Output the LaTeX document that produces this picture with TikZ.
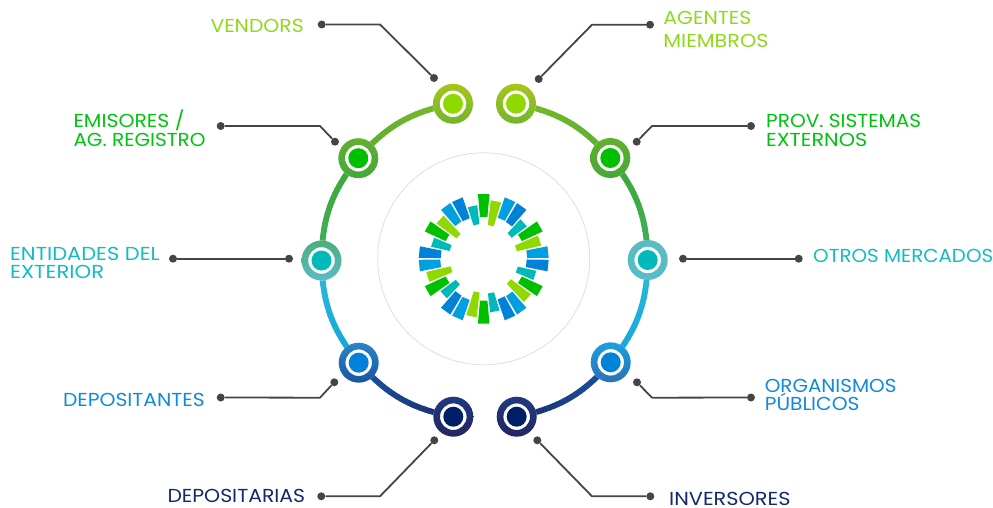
\documentclass[tikz,border=0pt]{standalone}
\usepackage{fontspec}
\usepackage{graphicx}
\setmainfont{Poppins}
\definecolor{lime}{HTML}{8FD91A}
\definecolor{grn}{HTML}{00C30E}
\definecolor{teal2}{HTML}{12BCC0}
\definecolor{blu}{HTML}{1289DE}
\definecolor{navy}{HTML}{12296B}
\definecolor{wg}{HTML}{00C000}
\definecolor{wl}{HTML}{8FD900}
\definecolor{wb}{HTML}{00A0E0}
\definecolor{wd}{HTML}{0082D8}
\definecolor{wt}{HTML}{00BABA}
\definecolor{cnavy}{HTML}{001F66}
\definecolor{la1}{HTML}{7DBA28}
\definecolor{la2}{HTML}{58AF30}
\definecolor{lb1}{HTML}{3BAA30}
\definecolor{lb2}{HTML}{40AE60}
\definecolor{lc1}{HTML}{30BAD8}
\definecolor{lc2}{HTML}{10A6DC}
\definecolor{ld1}{HTML}{1856A4}
\definecolor{ld2}{HTML}{1C3070}
\definecolor{ra1}{HTML}{A6C61A}
\definecolor{ra2}{HTML}{72B52C}
\definecolor{rb1}{HTML}{62B030}
\definecolor{rb2}{HTML}{44A838}
\definecolor{rc1}{HTML}{4DAE7A}
\definecolor{rc2}{HTML}{58BCC8}
\definecolor{rcr}{HTML}{58BCC0}
\definecolor{rd1}{HTML}{1BA0DC}
\definecolor{rd2}{HTML}{2A70B8}
\definecolor{ld3}{HTML}{2A84CC}
\definecolor{ld4}{HTML}{1A55A0}
\definecolor{re1}{HTML}{1E3A80}
\definecolor{re2}{HTML}{252560}
\newcommand\lab[2]{\resizebox{#1pt}{\height}{#2}}
\newcommand\twolines[3]{\vtop{\baselineskip=#1\hbox{#2}\hbox{#3}}}
\newcommand\gradlink[5]{%
  \foreach \i in {1,...,24}{%
    \pgfmathsetmacro\pa{(\i-1)/24}%
    \pgfmathsetmacro\pb{\i/24}%
    \pgfmathtruncatemacro\mixv{100-100*(\i-.5)/24}%
    \path (#1.center) to[#3] coordinate[pos=\pa] (sa) coordinate[pos=\pb] (sb) (#2.center);
    \draw[linkline,draw=#4!\mixv!#5] (sa) -- (sb);
  }%
}
\newcommand\ringdraw[4]{%
  \fill[white] (#1.center) circle[radius=20];
  \shade[top color=#2,bottom color=#3,even odd rule] (#1.center) circle[radius=20] (#1.center) circle[radius=13.3];
  \node[corenode,fill=#4] (#1c) at (#1.center) {};
}
\tikzset{
  anchorpt/.style={circle,inner sep=0pt,minimum size=2pt},
  corenode/.style={circle,inner sep=0pt,minimum size=20pt},
  linkline/.style={line width=5.8pt,line cap=round},
  dotnode/.style={circle,fill=black!73,inner sep=0pt,minimum size=8pt},
  leader/.style={draw=black!73,line width=1.8pt,line join=round},
  labelnode/.style={anchor=base west,inner sep=0pt,font=\fontsize{18.8}{18.8}\selectfont},
  halonode/.style={circle,draw=black!13,line width=0.8pt,inner sep=0pt,minimum size=212pt},
}
\begin{document}
\begin{tikzpicture}[x=1pt,y=-1pt]
\useasboundingbox (0,0) rectangle (993,508);
% wheel
\node[halonode] (halo) at (483.7,258.8) {};
\foreach \off/\ri/\ro/\c in {0/42/65/wg,12/34/59/wl,24/43.5/65/wb,36/43/65/wd,48/35/54/wt}{
  \foreach \n in {0,60,...,300}{
    \pgfmathsetmacro\ang{\off+\n}
    \fill[\c] ({483.7+\ro*sin(\ang-5.1)},{258.8-\ro*cos(\ang-5.1)}) --
      ({483.7+\ro*sin(\ang+5.1)},{258.8-\ro*cos(\ang+5.1)}) --
      ({483.7+\ri*sin(\ang+5.1)},{258.8-\ri*cos(\ang+5.1)}) --
      ({483.7+\ri*sin(\ang-5.1)},{258.8-\ri*cos(\ang-5.1)}) -- cycle;
  }
}
% ring anchors
\node[anchorpt] (la) at (453.0,103.8) {};
\node[anchorpt] (lb) at (358.3,158.2) {};
\node[anchorpt] (lc) at (321.5,260.5) {};
\node[anchorpt] (ld) at (358.7,362.7) {};
\node[anchorpt] (le) at (453.3,416.7) {};
\node[anchorpt] (ra) at (516.0,103.7) {};
\node[anchorpt] (rb) at (610.3,158.0) {};
\node[anchorpt] (rc) at (647.7,260.0) {};
\node[anchorpt] (rd) at (610.7,362.3) {};
\node[anchorpt] (re) at (516.7,416.7) {};
% gradient arcs
\gradlink{la}{lb}{bend right=19}{la1}{la2}
\gradlink{lb}{lc}{bend right=19}{lb1}{lb2}
\gradlink{lc}{ld}{bend right=19}{lc1}{lc2}
\gradlink{ld}{le}{bend right=19}{ld1}{ld2}
\gradlink{ra}{rb}{bend left=19}{la1}{la2}
\gradlink{rb}{rc}{bend left=19}{lb1}{lb2}
\gradlink{rc}{rd}{bend left=19}{lc1}{lc2}
\gradlink{rd}{re}{bend left=19}{ld1}{ld2}
% rings
\ringdraw{la}{ra1}{ra2}{wl}
\ringdraw{lb}{rb1}{rb2}{wg}
\ringdraw{lc}{rc1}{rc2}{wt}
\ringdraw{ld}{ld3}{ld4}{wd}
\ringdraw{le}{re1}{re2}{cnavy}
\ringdraw{ra}{ra1}{ra2}{wl}
\ringdraw{rb}{rb1}{rb2}{wg}
\ringdraw{rc}{rcr}{rc2}{wt}
\ringdraw{rd}{rd1}{rd2}{wd}
\ringdraw{re}{re1}{re2}{cnavy}
% leaders
\node[dotnode] (d1a) at (321.7,24.5) {};
\coordinate (d1e) at (380,24.5);
\node[dotnode] (d1b) at (434,78) {};
\draw[leader] (d1a) -- (d1e) -- (d1b);
\node[dotnode] (d2a) at (538.7,79) {};
\coordinate (d2e) at (592,24.7);
\node[dotnode] (d2b) at (650,24.7) {};
\draw[leader] (d2a) -- (d2e) -- (d2b);
\node[dotnode] (d3a) at (220.7,126) {};
\coordinate (d3e) at (320,126);
\node[dotnode] (d3b) at (335,141.7) {};
\draw[leader] (d3a) -- (d3e) -- (d3b);
\node[dotnode] (d4a) at (636.7,141.7) {};
\coordinate (d4e) at (652,126);
\node[dotnode] (d4b) at (751,126) {};
\draw[leader] (d4a) -- (d4e) -- (d4b);
\node[dotnode] (d5a) at (173,258.7) {};
\node[dotnode] (d5b) at (289,258.7) {};
\draw[leader] (d5a) -- (d5b);
\node[dotnode] (d6a) at (683,258.7) {};
\node[dotnode] (d6b) at (798.7,258.7) {};
\draw[leader] (d6a) -- (d6b);
\node[dotnode] (d7a) at (220.7,397.5) {};
\coordinate (d7e) at (320,397.7);
\node[dotnode] (d7b) at (334.3,382.3) {};
\draw[leader] (d7a) -- (d7e) -- (d7b);
\node[dotnode] (d8a) at (637,382.3) {};
\coordinate (d8e) at (652,397.7);
\node[dotnode] (d8b) at (751,397.5) {};
\draw[leader] (d8a) -- (d8e) -- (d8b);
\node[dotnode] (d9a) at (321.3,496.3) {};
\coordinate (d9e) at (380,496.3);
\node[dotnode] (d9b) at (434.3,440.3) {};
\draw[leader] (d9a) -- (d9e) -- (d9b);
\node[dotnode] (d0a) at (537.3,440.3) {};
\coordinate (d0e) at (592,496.3);
\node[dotnode] (d0b) at (650.3,496.3) {};
\draw[leader] (d0a) -- (d0e) -- (d0b);
% labels
\node[labelnode,text=lime] (t1) at (210.3,32.5) {\lab{93.3}{VENDORS}};
\node[labelnode,text=lime] (t2) at (663.2,24.5) {\twolines{23pt}{\lab{88}{AGENTES}}{\lab{105}{MIEMBROS}}};
\node[labelnode,text=grn] (t3) at (73.3,127.8) {\twolines{18.4pt}{\lab{111}{EMISORES /}}{\lab{132}{AG. REGISTRO}}};
\node[labelnode,text=grn] (t4) at (766,127.5) {\twolines{18.6pt}{\lab{155}{PROV. SISTEMAS}}{\lab{101}{EXTERNOS}}};
\node[labelnode,text=teal2] (t5) at (10,260.5) {\twolines{18.3pt}{\lab{149.5}{ENTIDADES DEL}}{\lab{94}{EXTERIOR}}};
\node[labelnode,text=teal2] (t6) at (813,262.2) {\lab{180}{OTROS MERCADOS}};
\node[labelnode,text=blu] (t7) at (62.8,406.5) {\lab{141.8}{DEPOSITANTES}};
\node[labelnode,text=blu] (t8) at (764.6,392.2) {\twolines{18.3pt}{\lab{131.7}{ORGANISMOS}}{\lab{94.7}{PÚBLICOS}}};
\node[labelnode,text=navy] (t9) at (167.3,502.8) {\lab{137.7}{DEPOSITARIAS}};
\node[labelnode,text=navy] (t0) at (669,505.3) {\lab{121.3}{INVERSORES}};
\end{tikzpicture}
\end{document}
